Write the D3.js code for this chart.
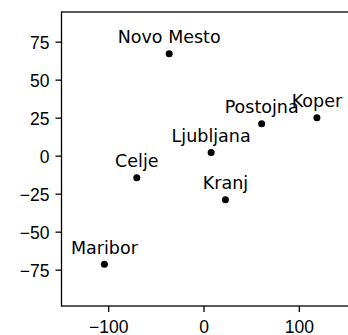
<!DOCTYPE html>
<html>
<head>
<meta charset="utf-8">
<script src="https://cdn.jsdelivr.net/npm/d3@7"></script>
<style>
  html, body { margin: 0; padding: 0; background: #fff; }
  svg { display: block; font-family: "DejaVu Sans", sans-serif; }
</style>
</head>
<body>
<div id="chart"></div>
<script>
// city data
const cities = ["Novo Mesto", "Koper", "Postojna", "Ljubljana", "Celje", "Kranj", "Maribor"];
const xValues = [-36, 119, 61, 8, -70, 23, -104];
const yValues = [67, 25, 21, 2, -14.5, -29, -71.5];

const xTicks = [-100, 0, 100];
const yTicks = [-75, -50, -25, 0, 25, 50, 75];

const width = 348, height = 335;
const margin = {top: 12, right: -8, bottom: 29, left: 61.5};
const fontSize = 17.5;

const x = d3.scaleLinear()
    .domain([-149, 160])
    .range([margin.left, width - margin.right]);

const y = d3.scaleLinear()
    .domain([-98.9, 94.5])
    .range([height - margin.bottom, margin.top]);

const data = cities.map((c, i) => ({name: c, x: xValues[i], y: yValues[i]}));

const svg = d3.select("#chart").append("svg")
    .attr("width", width)
    .attr("height", height)
    .attr("viewBox", [0, 0, width, height]);

// axes
svg.append("g")
    .attr("transform", `translate(0,${height - margin.bottom})`)
    .call(d3.axisBottom(x).tickValues(xTicks).tickSize(6).tickSizeOuter(0))
    .call(g => g.select(".domain").remove())
    .call(g => g.selectAll(".tick line").attr("stroke", "#000").attr("stroke-width", 1.3))
    .call(g => g.selectAll(".tick text")
        .attr("fill", "#000")
        .attr("font-size", fontSize)
        .attr("y", 27.3)
        .attr("dy", null));

svg.append("g")
    .attr("transform", `translate(${margin.left},0)`)
    .call(d3.axisLeft(y).tickValues(yTicks).tickSize(6).tickSizeOuter(0))
    .call(g => g.select(".domain").remove())
    .call(g => g.selectAll(".tick line").attr("stroke", "#000").attr("stroke-width", 1.3))
    .call(g => g.selectAll(".tick text")
        .attr("fill", "#000")
        .attr("font-size", fontSize)
        .attr("x", -12)
        .attr("dy", 6.4));

// frame
svg.append("rect")
    .attr("x", margin.left)
    .attr("y", margin.top)
    .attr("width", x.range()[1] - margin.left)
    .attr("height", y.range()[0] - margin.top)
    .attr("fill", "none")
    .attr("stroke", "#000")
    .attr("stroke-width", 1.3);

// points
svg.append("g")
  .selectAll("circle")
  .data(data)
  .join("circle")
    .attr("cx", d => x(d.x))
    .attr("cy", d => y(d.y))
    .attr("r", 3.5)
    .attr("fill", "#000");

// labels
svg.append("g")
  .selectAll("text")
  .data(data)
  .join("text")
    .attr("x", d => x(d.x))
    .attr("y", d => y(d.y) - 10.5)
    .attr("text-anchor", "middle")
    .attr("font-size", fontSize)
    .attr("fill", "#000")
    .text(d => d.name);
</script>
</body>
</html>
